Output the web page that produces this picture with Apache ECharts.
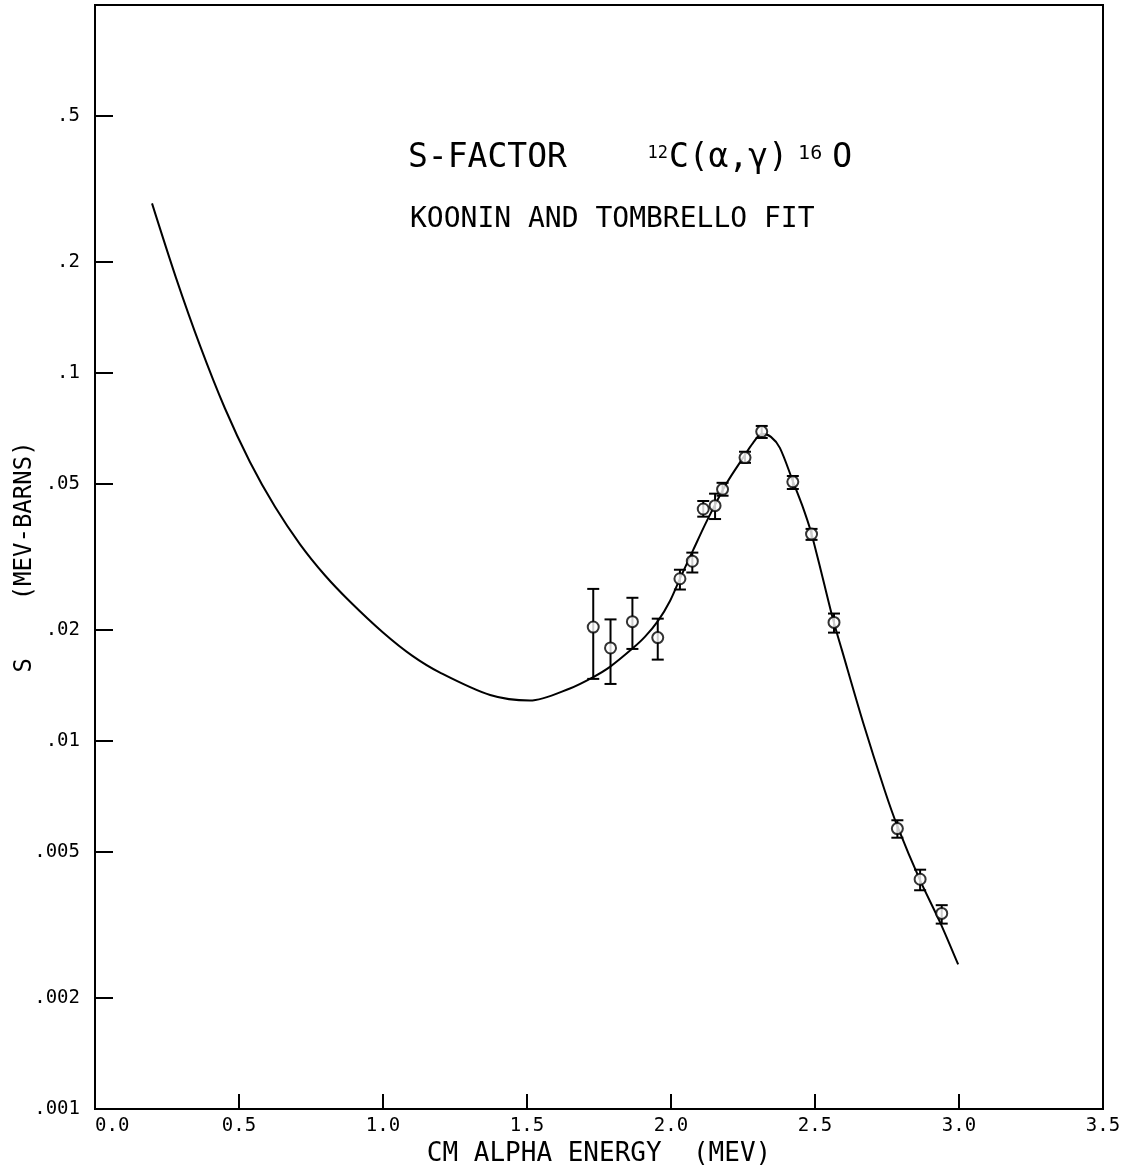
<!DOCTYPE html>
<html><head><meta charset="utf-8">
<script src="https://cdn.jsdelivr.net/npm/echarts@6/dist/echarts.min.js"></script>
<style>html,body{margin:0;padding:0;background:#fff}#c{width:1139px;height:1171px}</style>
</head><body><div id="c"></div>
<script>
// Fitted curve (Koonin and Tombrello fit)
const curveEnergy = [0.198, 0.281, 0.365, 0.451, 0.538, 0.625, 0.712, 0.799, 0.885, 1.000, 1.101, 1.198, 1.372, 1.510, 1.649, 1.729, 1.788, 1.865, 1.910, 1.955, 1.997, 2.031, 2.076, 2.125, 2.194, 2.250, 2.285, 2.316, 2.347, 2.378, 2.424, 2.455, 2.486, 2.524, 2.563, 2.594, 2.667, 2.743, 2.785, 2.865, 2.934, 2.997];
const curveS = [0.289, 0.1817, 0.1185, 0.0802, 0.0573, 0.04329, 0.03424, 0.02817, 0.02394, 0.01972, 0.01706, 0.01534, 0.01333, 0.01288, 0.01389, 0.0149, 0.0159, 0.0178, 0.01921, 0.0212, 0.02406, 0.02761, 0.0329, 0.0397, 0.0503, 0.0588, 0.0646, 0.06833, 0.06705, 0.06258, 0.0506, 0.0438, 0.0370, 0.0283, 0.02136, 0.0176, 0.01123, 0.0073, 0.0059, 0.00418, 0.00322, 0.00247];

// Measured points with error bars
const dataEnergy = [1.730, 1.790, 1.866, 1.954, 2.031, 2.074, 2.112, 2.153, 2.179, 2.257, 2.315, 2.423, 2.488, 2.566, 2.786, 2.865, 2.940];
const dataS      = [0.0204, 0.0179, 0.0211, 0.0191, 0.0276, 0.0308, 0.0427, 0.0436, 0.0483, 0.0589, 0.0693, 0.0506, 0.0365, 0.0210, 0.00578, 0.00421, 0.00340];
const dataSLow   = [0.01475, 0.01429, 0.01779, 0.01664, 0.0258, 0.0287, 0.0407, 0.0401, 0.0464, 0.0570, 0.0666, 0.0484, 0.0352, 0.0197, 0.00546, 0.00393, 0.00319];
const dataSHigh  = [0.0259, 0.0214, 0.0245, 0.0215, 0.0292, 0.0325, 0.0449, 0.0470, 0.0503, 0.0611, 0.0718, 0.0525, 0.0377, 0.0222, 0.00609, 0.00447, 0.00358];

// Axis ticks
const yTickValues = [0.001, 0.002, 0.005, 0.01, 0.02, 0.05, 0.1, 0.2, 0.5];
const yTickLabels = ['.001', '.002', '.005', '.01', '.02', '.05', '.1', '.2', '.5'];

const F = 'DejaVu Sans Mono';
const chart = echarts.init(document.getElementById('c'), null, {renderer: 'canvas'});

function yLabel(v) {
  for (let i = 0; i < yTickValues.length; i++) {
    if (Math.abs(v - yTickValues[i]) / yTickValues[i] < 1e-3) return yTickLabels[i];
  }
  return '';
}

const option = {
  backgroundColor: '#fff',
  animation: false,
  title: [
    {
      text: '{m|S-FACTOR    }{s|12}{m|C(α,γ)}{t|16}{m|O}',
      left: 408, top: 138, padding: 0,
      textStyle: {
        fontFamily: F, fontWeight: 'normal', color: '#000',
        rich: {
          m: {fontFamily: F, fontSize: 33, fontWeight: 'normal', color: '#000', lineHeight: 40, verticalAlign: 'middle'},
          s: {fontFamily: F, fontSize: 17, fontWeight: 'normal', color: '#000', lineHeight: 40, verticalAlign: 'middle', padding: [0, 1, 8, 1]},
          t: {fontFamily: F, fontSize: 20, fontWeight: 'normal', color: '#000', lineHeight: 40, verticalAlign: 'middle', padding: [0, 10, 8, 10]}
        }
      }
    },
    {
      text: 'KOONIN AND TOMBRELLO FIT',
      left: 410, top: 203, padding: 0,
      textStyle: {fontFamily: F, fontSize: 28, fontWeight: 'normal', color: '#000', lineHeight: 34}
    }
  ],
  grid: {left: 95, top: 5, right: 36, bottom: 62, containLabel: false, outerBoundsMode: 'none', show: true, borderColor: '#000', borderWidth: 2, backgroundColor: 'transparent'},
  xAxis: {
    type: 'value', min: 0, max: 3.5, interval: 0.5,
    name: 'CM ALPHA ENERGY  (MEV)', nameLocation: 'middle', nameGap: 31,
    nameTextStyle: {fontFamily: F, fontSize: 26, color: '#000'},
    axisLine: {lineStyle: {color: '#000', width: 2}},
    axisTick: {inside: true, length: 15, lineStyle: {color: '#000', width: 2}},
    axisLabel: {fontFamily: F, fontSize: 19, color: '#000', margin: 8, formatter: v => v.toFixed(1), alignMinLabel: 'left', showMinLabel: true, showMaxLabel: true},
    splitLine: {show: false}
  },
  yAxis: {
    type: 'log', logBase: 10, min: 0.001, max: 1,
    name: 'S    (MEV-BARNS)', nameLocation: 'middle', nameRotate: 90, nameGap: 58, nameMoveOverlap: false,
    nameTextStyle: {fontFamily: F, fontSize: 24, color: '#000'},
    axisLine: {lineStyle: {color: '#000', width: 2}},
    axisTick: {inside: true, length: 18, customValues: yTickValues, lineStyle: {color: '#000', width: 2}},
    axisLabel: {fontFamily: F, fontSize: 19, color: '#000', margin: 15, customValues: yTickValues, formatter: yLabel},
    splitLine: {show: false},
    minorTick: {show: false}
  },
  series: [
    {
      type: 'line',
      data: curveEnergy.map((e, i) => [e, curveS[i]]),
      smooth: 0.3, showSymbol: false, symbol: 'none',
      lineStyle: {color: '#000', width: 2},
      z: 2
    },
    {
      type: 'custom',
      data: dataEnergy.map((e, i) => [e, dataSLow[i], dataSHigh[i]]),
      encode: {x: 0, y: [1, 2]},
      renderItem: function (params, api) {
        const lo = api.coord([api.value(0), api.value(1)]);
        const hi = api.coord([api.value(0), api.value(2)]);
        const w = 6;
        const st = {stroke: '#000', lineWidth: 2};
        return {
          type: 'group',
          children: [
            {type: 'line', shape: {x1: lo[0], y1: lo[1], x2: hi[0], y2: hi[1]}, style: st},
            {type: 'line', shape: {x1: lo[0] - w, y1: lo[1], x2: lo[0] + w, y2: lo[1]}, style: st},
            {type: 'line', shape: {x1: hi[0] - w, y1: hi[1], x2: hi[0] + w, y2: hi[1]}, style: st}
          ]
        };
      },
      z: 3
    },
    {
      type: 'scatter',
      data: dataEnergy.map((e, i) => [e, dataS[i]]),
      symbol: 'circle', symbolSize: 11,
      itemStyle: {color: '#fff', borderColor: '#000', borderWidth: 2},
      z: 4
    }
  ]
};
chart.setOption(option);
</script></body></html>
